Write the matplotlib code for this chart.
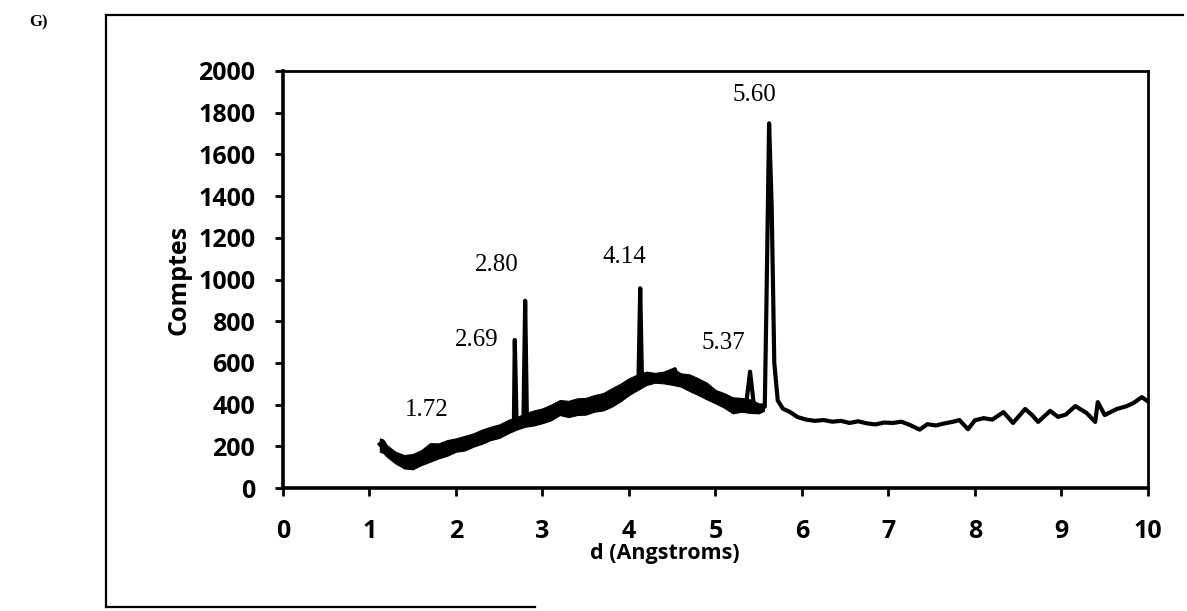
import matplotlib
matplotlib.use("Agg")
import matplotlib.pyplot as plt
from matplotlib.lines import Line2D

# diffractogram: d spacing (Angstroms) vs counts
d_vals = [1.12, 1.15, 1.20, 1.25, 1.30, 1.35, 1.40, 1.45, 1.50, 1.55, 1.60, 1.70,
          1.80, 1.90, 2.00, 2.10, 2.20, 2.30, 2.40, 2.50, 2.60, 2.65, 2.67, 2.68,
          2.70, 2.74, 2.78, 2.80, 2.82, 2.86, 2.90, 3.00, 3.10, 3.20, 3.30, 3.40,
          3.50, 3.60, 3.70, 3.80, 3.90, 4.00, 4.06, 4.11, 4.13, 4.15, 4.20, 4.30,
          4.40, 4.50, 4.53, 4.56, 4.60, 4.70, 4.80, 4.90, 5.00, 5.10, 5.20, 5.30,
          5.36, 5.40, 5.44, 5.48, 5.53, 5.57, 5.59, 5.62, 5.65, 5.68, 5.72, 5.78,
          5.86, 5.95, 6.05, 6.15, 6.25, 6.35, 6.45, 6.55, 6.65, 6.75, 6.85, 6.95,
          7.05, 7.15, 7.25, 7.36, 7.45, 7.55, 7.65, 7.75, 7.82, 7.92, 8.00, 8.10,
          8.20, 8.33, 8.44, 8.58, 8.66, 8.73, 8.87, 8.96, 9.05, 9.16, 9.29, 9.39,
          9.42, 9.50, 9.64, 9.75, 9.83, 9.93, 10.0]
counts = [210, 220, 180, 162, 146, 132, 126, 122, 126, 136, 146, 162,
          178, 192, 206, 218, 230, 246, 262, 278, 294, 305, 330, 710,
          330, 318, 326, 898, 330, 338, 340, 346, 362, 386, 388, 390,
          398, 406, 420, 434, 456, 486, 505, 515, 958, 525, 526, 532,
          530, 532, 570, 530, 518, 505, 486, 462, 438, 418, 398, 399,
          420, 558, 412, 392, 382, 390, 900, 1749, 1350, 600, 420, 380,
          365, 340, 328, 322, 326, 318, 322, 312, 320, 310, 305, 314,
          312, 318, 302, 280, 306, 300, 310, 318, 326, 282, 325, 335,
          328, 364, 312, 379, 350, 317, 370, 341, 352, 393, 360, 317,
          412, 350, 379, 392, 407, 436, 415]

# envelope of the dense (noisy) part of the scan
band_d = [1.12, 1.16, 1.20, 1.30, 1.40, 1.50, 1.60, 1.70, 1.80, 1.90, 2.00,
          2.10, 2.20, 2.30, 2.40, 2.50, 2.60, 2.70, 2.80, 2.90, 3.00, 3.10,
          3.20, 3.30, 3.40, 3.50, 3.60, 3.70, 3.80, 3.90, 4.00, 4.10, 4.20,
          4.30, 4.40, 4.50, 4.60, 4.70, 4.80, 4.90, 5.00, 5.10, 5.20, 5.30,
          5.40, 5.50, 5.56]
band_hi = [238, 232, 206, 174, 158, 163, 182, 215, 214, 230, 238,
           250, 262, 280, 294, 305, 326, 340, 358, 372, 382, 400,
           422, 418, 430, 432, 446, 455, 478, 500, 526, 545, 558,
           552, 558, 575, 550, 545, 526, 505, 470, 455, 435, 432,
           425, 406, 405]
band_lo = [174, 168, 150, 118, 94, 90, 110, 126, 142, 155, 174,
           180, 198, 212, 230, 240, 262, 280, 294, 300, 311, 325,
           350, 340, 350, 352, 366, 372, 390, 415, 446, 470, 494,
           505, 502, 495, 486, 465, 446, 425, 406, 385, 358, 366,
           360, 358, 370]

peak_labels = ["1.72", "2.69", "2.80", "4.14", "5.37", "5.60"]
label_x = [1.66, 2.24, 2.47, 3.95, 5.09, 5.45]
label_y = [374, 710, 1070, 1108, 695, 1885]

fig = plt.figure(figsize=(11.87, 6.11), dpi=100)
ax = fig.add_axes([0.2384, 0.2013, 0.7287, 0.6825])

ax.fill_between(band_d, band_lo, band_hi, color="black", lw=0.8)
ax.plot(d_vals, counts, color="black", lw=3.0, solid_joinstyle="round")

for txt, x, y in zip(peak_labels, label_x, label_y):
    ax.text(x, y, txt, family="Liberation Serif", fontsize=18,
            ha="center", va="center")

ax.set_xlim(0, 10)
ax.set_ylim(0, 2000)
ax.set_xticks(range(0, 11))
ax.set_yticks(range(0, 2001, 200))

for s in ax.spines.values():
    s.set_linewidth(2.0)
ax.spines["left"].set_linewidth(2.6)
ax.spines["bottom"].set_linewidth(2.6)
ax.tick_params(direction="out", length=6, width=2, pad=14)
ax.tick_params(axis="x", pad=16)
for lab in ax.get_xticklabels() + ax.get_yticklabels():
    lab.set_family("Open Sans")
    lab.set_fontweight("bold")
    lab.set_fontsize(18)

ax.set_xlabel("d (Angstroms)", family="Open Sans", fontweight="bold", fontsize=15.5)
ax.xaxis.set_label_coords(0.4416, -0.133)
ax.set_ylabel("Comptes", family="Open Sans", fontweight="bold", fontsize=18)
ax.yaxis.set_label_coords(-0.106, 0.5)

# outer frame of the scanned figure
fig.add_artist(Line2D([0.0893, 0.0893], [0.0065, 0.9755], color="black", lw=1.6))
fig.add_artist(Line2D([0.0893, 0.9966], [0.9755, 0.9755], color="black", lw=1.6))
fig.add_artist(Line2D([0.0893, 0.451], [0.0065, 0.0065], color="black", lw=1.6))

fig.text(0.025, 0.964, "G)", family="Liberation Serif", fontweight="bold",
         fontsize=12, va="center")

plt.savefig("out.png", dpi=100)
